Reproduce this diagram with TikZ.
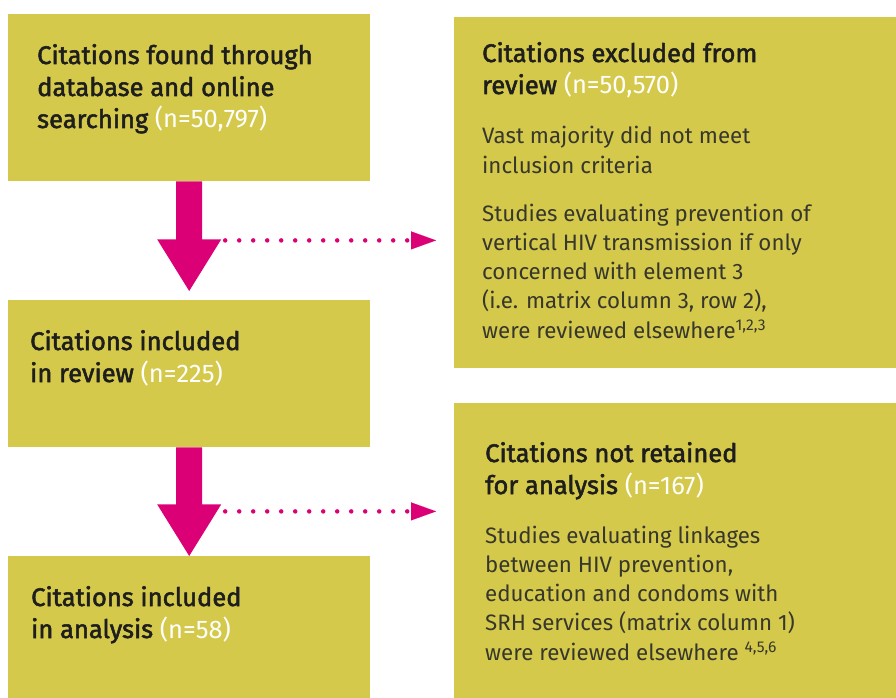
\documentclass[tikz,border=0pt]{standalone}
\usepackage{fontspec}
\usetikzlibrary{arrows.meta,calc}
\newfontfamily\titlefont[FakeBold=2]{Fira Sans}
\newfontfamily\numfont{Fira Sans}
\newfontfamily\bodyfont{Fira Sans}
\definecolor{boxolive}{RGB}{212,201,74}
\definecolor{flowmag}{RGB}{220,0,118}
\definecolor{titlegray}{RGB}{30,30,30}
\definecolor{bodygray}{RGB}{55,55,45}
\newcommand{\nval}[1]{{\numfont\color{white}#1}}
\begin{document}
\begin{tikzpicture}[x=1pt,y=-1pt,
  box/.style={fill=boxolive, draw=none, inner sep=0pt, anchor=north west},
  ttl/.style={anchor=base west, inner sep=0pt, align=left, text=titlegray,
    font=\titlefont\fontsize{25.5}{32}\selectfont},
  bdy/.style={anchor=base west, inner sep=0pt, align=left, text=bodygray,
    font=\bodyfont\fontsize{22.3}{29.25}\selectfont},
  bigarrow/.style={fill=flowmag, draw=none},
  dotline/.style={draw=flowmag, line width=4.5pt, line cap=round,
    dash pattern=on 0pt off 14pt,
    -{Triangle[length=25pt,width=18pt,line width=0.01pt]}}
]
\useasboundingbox (0,0) rectangle (896,698);
% boxes
\node[box, minimum width=362pt, minimum height=167pt] (A) at (8,14) {};
\node[box, minimum width=362pt, minimum height=147pt] (B) at (8,300) {};
\node[box, minimum width=362pt, minimum height=142pt] (C) at (8,556) {};
\node[box, minimum width=442pt, minimum height=351pt] (D) at (454,17) {};
\node[box, minimum width=442pt, minimum height=295pt] (E) at (454,403) {};
% texts (anchored at the baseline of their last line)
\node[ttl] (At) at (37,128) {Citations found through\\database and online\\searching \nval{(n=50,797)}};
\node[ttl] (Bt) at (30,382) {Citations included\\in review \nval{(n=225)}};
\node[ttl] (Ct) at (31,638) {Citations included\\in analysis \nval{(n=58)}};
\node[ttl] (Dt) at (482,94) {Citations excluded from\\review \nval{(n=50,570)}};
\node[bdy] (Db1) at (482,173) {Vast majority did not meet\\inclusion criteria};
\node[bdy] (Db2) at (482,338) {Studies evaluating prevention of\\vertical HIV transmission if only\\concerned with element 3\\(i.e. matrix column 3, row 2),\\were reviewed elsewhere\textsuperscript{1,2,3}};
\node[ttl] (Et) at (485,494) {Citations not retained\\for analysis \nval{(n=167)}};
\node[bdy] (Eb) at (485,660) {Studies evaluating linkages\\between HIV prevention,\\education and condoms with\\SRH services (matrix column 1)\\were reviewed elsewhere \textsuperscript{4,5,6}};
% big arrows
\fill[bigarrow] ($(A.south)+(-13,0)$) -- ++(0,58) -- ++(-19,0) -- ($(B.north)+(0,-9)$)
  -- ($(A.south)+(32,58)$) -- ++(-19,0) -- ($(A.south)+(13,0)$) -- cycle;
\fill[bigarrow] ($(B.south)+(-13,0)$) -- ++(0,57) -- ++(-19,0) -- (C.north)
  -- ($(B.south)+(32,57)$) -- ++(-19,0) -- ($(B.south)+(13,0)$) -- cycle;
% dotted connectors
\coordinate (d1s) at ($(A.south)+(36,59)$);
\coordinate (d1e) at ($(D.west |- d1s)+(-18,0)$);
\coordinate (d2s) at ($(B.south)+(36,64)$);
\coordinate (d2e) at ($(E.west |- d2s)+(-18,0)$);
\draw[dotline] (d1s) -- (d1e);
\draw[dotline] (d2s) -- (d2e);
\end{tikzpicture}
\end{document}
